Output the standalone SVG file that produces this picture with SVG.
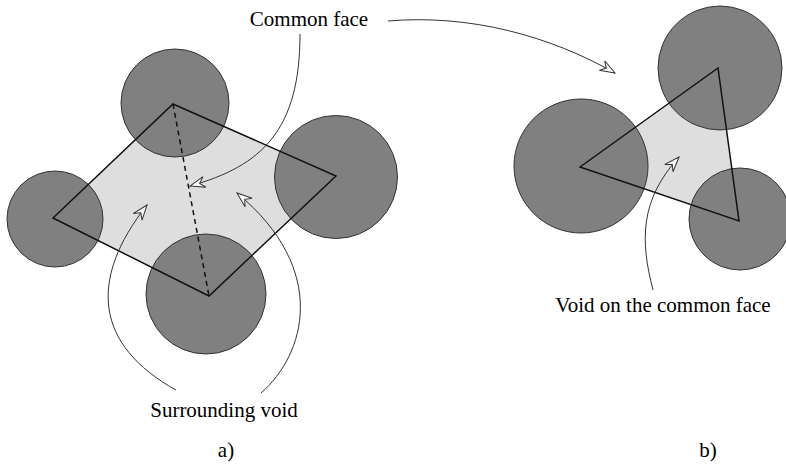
<svg xmlns="http://www.w3.org/2000/svg" width="786" height="464" viewBox="0 0 786 464">
<style>
.face{fill:#dedede;stroke:none}
.edge{fill:none;stroke:#111;stroke-width:1.5;stroke-linejoin:miter}
.ball{fill:#808080;stroke:#333;stroke-width:1}
.dash{fill:none;stroke:#111;stroke-width:1.5;stroke-dasharray:5,4}
.conn{fill:none;stroke:#333;stroke-width:1;marker-end:url(#ah)}
text{font-family:"Liberation Serif","Times New Roman",serif;font-size:21px;fill:#000;text-anchor:middle}
</style>
<defs>
<marker id="ah" markerUnits="userSpaceOnUse" markerWidth="20" markerHeight="14" viewBox="-16 -7 18 14" refX="0" refY="0" orient="auto" overflow="visible">
<path d="M0,0 L-15,-5.5 L-10,0 L-15,5.5 Z" fill="#fff" stroke="#333" stroke-width="1" stroke-linejoin="miter"/>
</marker>
</defs>
<g id="figure-a">
<polygon class="face" points="173,104 336,176 209,296 53,218"/>
<g id="sphere-a-top"><circle class="ball" cx="175" cy="103" r="54"/></g>
<g id="sphere-a-left"><circle class="ball" cx="55" cy="219" r="48"/></g>
<g id="sphere-a-right"><circle class="ball" cx="336" cy="177" r="61.5"/></g>
<g id="sphere-a-bottom"><circle class="ball" cx="206" cy="294" r="60"/></g>
<polygon class="edge" points="173,104 336,176 209,296 53,218"/>
<line class="dash" x1="173" y1="104" x2="209" y2="296"/>
</g>
<g id="figure-b">
<polygon class="face" points="580,167 718,68 739,221"/>
<g id="sphere-b-left"><circle class="ball" cx="581" cy="166" r="67"/></g>
<g id="sphere-b-top"><circle class="ball" cx="720" cy="68" r="62"/></g>
<g id="sphere-b-bottom"><circle class="ball" cx="740" cy="219" r="51"/></g>
<polygon class="edge" points="580,167 718,68 739,221"/>
</g>
<g id="connectors">
<path class="conn" d="M300,34 C300,130 262,166 190,186"/>
<path class="conn" d="M388,21 C470,14 550,36 615,73"/>
<path class="conn" d="M176,390 C95,345 88,280 147,205"/>
<path class="conn" d="M261,393 C305,355 330,270 237,193"/>
<path class="conn" d="M653,290 C640,240 640,200 679,157"/>
</g>
<g id="labels">
<text x="309" y="26">Common face</text>
<text x="224" y="417">Surrounding void</text>
<text x="663" y="312">Void on the common face</text>
<text x="226" y="457">a)</text>
<text x="708" y="457">b)</text>
</g>
</svg>
